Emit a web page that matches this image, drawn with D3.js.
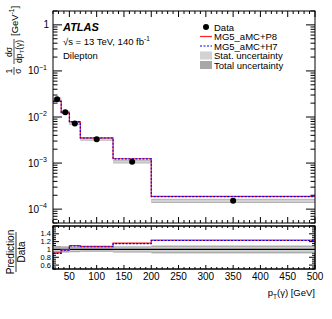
<!DOCTYPE html>
<meta charset="utf-8">
<html>
<head>
<script src="https://d3js.org/d3.v7.min.js"></script>
<style>
  body { margin: 0; background: #fff; }
  text { font-family: "Liberation Sans", Arial, sans-serif; }
</style>
</head>
<body>
<div id="chart"></div>
<script>
// bin edges in pT(gamma) [GeV]
var edges = [20, 35, 50, 70, 130, 200, 500];
// normalised cross-section, data
var dataVals = [0.0243, 0.0127, 0.0072, 0.00327, 0.00107, 0.000152];
// prediction / data
var ratioP8 = [0.91, 0.99, 1.10, 1.08, 1.16, 1.24];
var ratioH7 = [0.90, 0.98, 1.09, 1.07, 1.15, 1.23];
// relative uncertainties
var statUnc = [0.04, 0.04, 0.04, 0.03, 0.05, 0.06];
var totUnc = [0.09, 0.08, 0.07, 0.06, 0.08, 0.10];

var yMajor = [1, 0.1, 0.01, 0.001, 0.0001];
var yMajorLabels = ["1", "-1", "-2", "-3", "-4"];
var rMajor = [0.6, 0.8, 1, 1.2, 1.4];

var W = 332, H = 319;
var svg = d3.select("#chart").append("svg").attr("width", W).attr("height", H);

var L = 53, R = 315;
var mainTop = 11, mainBot = 223;
var rTop = 226, rBot = 269;

var x = d3.scaleLinear().domain([20, 500]).range([L, R]);
var y = d3.scaleLog().domain([5e-5, 2]).range([mainBot, mainTop]);
var yr = d3.scaleLinear().domain([0.5, 1.6]).range([rBot, rTop]);

var bins = d3.range(dataVals.length).map(function (i) {
  return { x0: edges[i], x1: edges[i + 1], v: dataVals[i], p8: ratioP8[i], h7: ratioH7[i], s: statUnc[i], t: totUnc[i] };
});

function stepPath(vals, ys) {
  var pts = vals.map(function (v, i) { return [x(edges[i]), ys(v)]; });
  pts.push([x(edges[edges.length - 1]), ys(vals[vals.length - 1])]);
  return d3.line().curve(d3.curveStepAfter)(pts);
}

// ---------- main panel ----------
var gm = svg.append("g");
// total then stat bands
gm.selectAll("rect.tot").data(bins).join("rect")
  .attr("x", function (d) { return x(d.x0); })
  .attr("width", function (d) { return x(d.x1) - x(d.x0); })
  .attr("y", function (d) { return y(d.v * (1 + d.t)); })
  .attr("height", function (d) { return y(d.v * (1 - d.t)) - y(d.v * (1 + d.t)); })
  .attr("fill", "#a8a8a8");
gm.selectAll("rect.stat").data(bins).join("rect")
  .attr("x", function (d) { return x(d.x0); })
  .attr("width", function (d) { return x(d.x1) - x(d.x0); })
  .attr("y", function (d) { return y(d.v * (1 + d.s)); })
  .attr("height", function (d) { return y(d.v * (1 - d.s)) - y(d.v * (1 + d.s)); })
  .attr("fill", "#d2d2d2");

gm.append("path")
  .attr("d", stepPath(bins.map(function (d) { return d.v * d.p8; }), y))
  .attr("fill", "none").attr("stroke", "#ff2020").attr("stroke-width", 1.2);
gm.append("path")
  .attr("d", stepPath(bins.map(function (d) { return d.v * d.h7; }), y))
  .attr("fill", "none").attr("stroke", "#0000ff").attr("stroke-width", 1.1)
  .attr("stroke-dasharray", "2,1.5");

gm.selectAll("circle").data(bins).join("circle")
  .attr("cx", function (d) { return x((d.x0 + d.x1) / 2); })
  .attr("cy", function (d) { return y(d.v); })
  .attr("r", 3).attr("fill", "#000");

// frame
function frame(t, b) {
  svg.append("rect").attr("x", L).attr("y", t).attr("width", R - L).attr("height", b - t)
    .attr("fill", "none").attr("stroke", "#000").attr("stroke-width", 1);
}
frame(mainTop, mainBot);
frame(rTop, rBot);

// x ticks (inward) on both panels
var xMinor = d3.range(20, 501, 10);
function xTicks(t, b, major, minor) {
  var g = svg.append("g").attr("stroke", "#000").attr("stroke-width", 1);
  xMinor.forEach(function (v) {
    var len = (v % 50 === 0) ? major : minor;
    g.append("line").attr("x1", x(v)).attr("x2", x(v)).attr("y1", b).attr("y2", b - len);
    g.append("line").attr("x1", x(v)).attr("x2", x(v)).attr("y1", t).attr("y2", t + len);
  });
}
xTicks(mainTop, mainBot, 6, 3);
xTicks(rTop, rBot, 4, 2);

// log y ticks
var gy = svg.append("g").attr("stroke", "#000").attr("stroke-width", 1);
[-5, -4, -3, -2, -1, 0].forEach(function (e) {
  for (var k = 1; k <= 9; k++) {
    var v = k * Math.pow(10, e);
    if (v < 5e-5 || v > 2) continue;
    var len = k === 1 ? 9 : 4.5;
    gy.append("line").attr("x1", L).attr("x2", L + len).attr("y1", y(v)).attr("y2", y(v));
    gy.append("line").attr("x1", R).attr("x2", R - len).attr("y1", y(v)).attr("y2", y(v));
  }
});
// ratio y ticks
d3.range(0.5, 1.601, 0.05).forEach(function (v) {
  var isMaj = Math.abs(Math.round(v * 10) - v * 10) < 1e-6 && Math.round(v * 10) % 2 === 0;
  var len = isMaj ? 6 : 3;
  gy.append("line").attr("x1", L).attr("x2", L + len).attr("y1", yr(v)).attr("y2", yr(v));
  gy.append("line").attr("x1", R).attr("x2", R - len).attr("y1", yr(v)).attr("y2", yr(v));
});

// y tick labels (main)
yMajor.forEach(function (v, i) {
  var t = svg.append("text").attr("y", y(v) + 3.5).attr("font-size", 10).attr("fill", "#000");
  if (i === 0) {
    t.attr("x", L - 4).attr("text-anchor", "end").text("1");
  } else {
    t.attr("x", L - 14).attr("text-anchor", "end").text("10");
    svg.append("text").attr("x", L - 14).attr("y", y(v) - 1).attr("font-size", 7)
      .text("\u2212" + yMajorLabels[i].slice(1));
  }
});
// ratio labels
rMajor.forEach(function (v) {
  svg.append("text").attr("x", L - 2).attr("y", yr(v) + 2.6).attr("font-size", 7.5)
    .attr("text-anchor", "end").text(v === 1 ? "1" : v.toFixed(1));
});
// x labels
d3.range(50, 501, 50).forEach(function (v) {
  svg.append("text").attr("x", x(v)).attr("y", rBot + 11).attr("font-size", 10)
    .attr("text-anchor", "middle").text(v);
});

// ---------- ratio panel ----------
var gr = svg.append("g");
gr.selectAll("rect.tot").data(bins).join("rect")
  .attr("x", function (d) { return x(d.x0); })
  .attr("width", function (d) { return x(d.x1) - x(d.x0); })
  .attr("y", function (d) { return yr(1 + d.t); })
  .attr("height", function (d) { return yr(1 - d.t) - yr(1 + d.t); })
  .attr("fill", "#a8a8a8");
gr.selectAll("rect.stat").data(bins).join("rect")
  .attr("x", function (d) { return x(d.x0); })
  .attr("width", function (d) { return x(d.x1) - x(d.x0); })
  .attr("y", function (d) { return yr(1 + d.s); })
  .attr("height", function (d) { return yr(1 - d.s) - yr(1 + d.s); })
  .attr("fill", "#d2d2d2");
gr.append("line").attr("x1", L).attr("x2", R).attr("y1", yr(1)).attr("y2", yr(1))
  .attr("stroke", "#000").attr("stroke-width", 1.2);
gr.append("path").attr("d", stepPath(ratioP8, yr))
  .attr("fill", "none").attr("stroke", "#ff2020").attr("stroke-width", 1.2);
gr.append("path").attr("d", stepPath(ratioH7, yr))
  .attr("fill", "none").attr("stroke", "#0000ff").attr("stroke-width", 1.1)
  .attr("stroke-dasharray", "2,1.5");
frame(rTop, rBot);

// ---------- text ----------
svg.append("text").attr("x", 63).attr("y", 31).attr("font-size", 11)
  .attr("font-weight", "bold").attr("font-style", "italic").text("ATLAS");
var s = svg.append("text").attr("x", 63).attr("y", 45).attr("font-size", 9.5);
s.append("tspan").text("\u221As = 13 TeV, 140 fb");
s.append("tspan").attr("dy", -4).attr("font-size", 6.5).text("-1");
svg.append("text").attr("x", 63).attr("y", 59).attr("font-size", 9.5).text("Dilepton");

// legend
var lx = 200, lw = 12, tx = 214;
var rows = [27, 36.5, 46, 55.5, 65];
svg.append("circle").attr("cx", lx + 6).attr("cy", rows[0]).attr("r", 3).attr("fill", "#000");
svg.append("line").attr("x1", lx).attr("x2", lx + lw).attr("y1", rows[1]).attr("y2", rows[1])
  .attr("stroke", "#ff2020").attr("stroke-width", 1.2);
svg.append("line").attr("x1", lx).attr("x2", lx + lw).attr("y1", rows[2]).attr("y2", rows[2])
  .attr("stroke", "#0000ff").attr("stroke-width", 1.1).attr("stroke-dasharray", "2,1.5");
svg.append("rect").attr("x", lx).attr("y", rows[3] - 4).attr("width", lw).attr("height", 8).attr("fill", "#d2d2d2");
svg.append("rect").attr("x", lx).attr("y", rows[4] - 4).attr("width", lw).attr("height", 8).attr("fill", "#a8a8a8");
["Data", "MG5_aMC+P8", "MG5_aMC+H7", "Stat. uncertainty", "Total uncertainty"].forEach(function (t, i) {
  svg.append("text").attr("x", tx).attr("y", rows[i] + 3.5).attr("font-size", 9.5).text(t);
});

// y axis title (rotated fraction)
var gt = svg.append("g").attr("transform", "translate(14,75) rotate(-90)").attr("font-size", 8.5);
gt.append("text").attr("x", 4).attr("y", -2).attr("text-anchor", "middle").text("1");
gt.append("line").attr("x1", 0).attr("x2", 8).attr("y1", 0).attr("y2", 0).attr("stroke", "#000").attr("stroke-width", 0.7);
gt.append("text").attr("x", 4).attr("y", 7).attr("text-anchor", "middle").text("\u03C3");
gt.append("text").attr("x", 23).attr("y", -2).attr("text-anchor", "middle").text("d\u03C3");
gt.append("line").attr("x1", 11).attr("x2", 36).attr("y1", 0).attr("y2", 0).attr("stroke", "#000").attr("stroke-width", 0.7);
var dp = gt.append("text").attr("x", 12).attr("y", 8);
dp.append("tspan").text("dp");
dp.append("tspan").attr("dy", 2).attr("font-size", 6).text("T");
dp.append("tspan").attr("dy", -2).text("(\u03B3)");
var gev = gt.append("text").attr("x", 39).attr("y", 3.5).attr("font-size", 9.5);
gev.append("tspan").text("[GeV");
gev.append("tspan").attr("dy", -4).attr("font-size", 6.5).text("-1");
gev.append("tspan").attr("dy", 4).text("]");

// ratio y title
var gq = svg.append("g").attr("transform", "translate(16,252) rotate(-90)").attr("font-size", 10);
gq.append("text").attr("x", 0).attr("y", -2).attr("text-anchor", "middle").text("Prediction");
gq.append("line").attr("x1", -20).attr("x2", 20).attr("y1", 0).attr("y2", 0).attr("stroke", "#000").attr("stroke-width", 0.8);
gq.append("text").attr("x", 0).attr("y", 8.5).attr("text-anchor", "middle").text("Data");

// x title
var xt = svg.append("text").attr("x", R).attr("y", 296).attr("font-size", 9.5).attr("text-anchor", "end");
xt.append("tspan").text("p");
xt.append("tspan").attr("dy", 2.5).attr("font-size", 6.5).text("T");
xt.append("tspan").attr("dy", -2.5).text("(\u03B3) [GeV]");
</script>
</body>
</html>
